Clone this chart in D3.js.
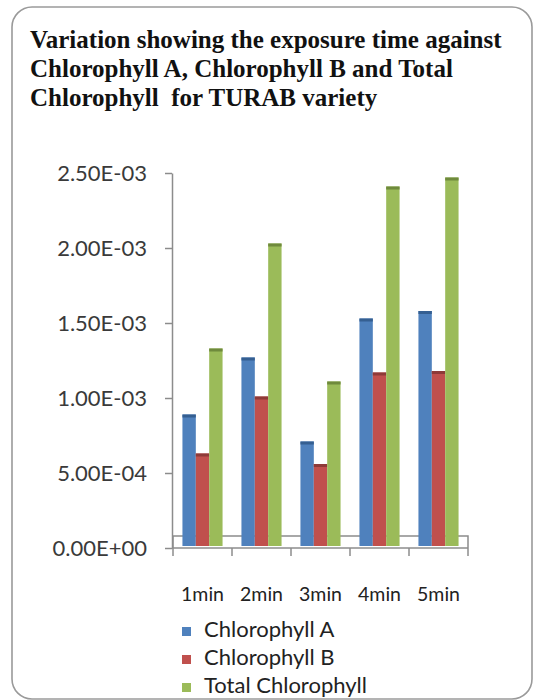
<!DOCTYPE html>
<html>
<head>
<meta charset="utf-8">
<script src="https://cdn.jsdelivr.net/npm/d3@7"></script>
<style>
body { margin: 0; background: #fff; }
svg { display: block; }
</style>
</head>
<body>
<svg width="534" height="700"></svg>
<script>
var categories = ["1min", "2min", "3min", "4min", "5min"]
var seriesNames = ["Chlorophyll A", "Chlorophyll B", "Total Chlorophyll"]
var chlA = [0.00089, 0.00127, 0.00071, 0.00153, 0.00158]
var chlB = [0.00063, 0.00101, 0.00056, 0.00117, 0.00118]
var chlTotal = [0.00133, 0.00203, 0.00111, 0.00241, 0.00247]
var yTicks = [0, 0.0005, 0.001, 0.0015, 0.002, 0.0025]
var titleLines = [
    "Variation showing the exposure time against",
    "Chlorophyll A, Chlorophyll B and Total",
    "Chlorophyll  for TURAB variety"
]

var colors = ["#4F81BD", "#C0504D", "#9BBB59"]
var topColors = ["#355F91", "#8E3A38", "#6F8A3C"]
var series = [chlA, chlB, chlTotal]

var svg = d3.select("svg")

// outer rounded frame
svg.append("rect")
    .attr("x", 12).attr("y", 7)
    .attr("width", 520).attr("height", 692)
    .attr("rx", 20).attr("ry", 20)
    .attr("fill", "#fff")
    .attr("stroke", "#9a9a9a")
    .attr("stroke-width", 1.6)

// title
svg.append("g").selectAll("text")
    .data(titleLines)
    .enter().append("text")
    .attr("x", 30)
    .attr("y", function(d, i) { return 48 + i*29 })
    .attr("font-family", "'Liberation Serif', 'Times New Roman', serif")
    .attr("font-weight", "bold")
    .attr("font-size", 25)
    .attr("fill", "#111")
    .style("white-space", "pre")
    .text(function(d) { return d })

// plot box (names avoid window.top)
var pLeft = 173, pRight = 468, pBottom = 548, pTop = 173

var x0 = d3.scaleBand().domain(categories).range([pLeft, pRight])
    .paddingInner(0.32).paddingOuter(0.16)
var x1 = d3.scaleBand().domain(d3.range(series.length)).range([0, x0.bandwidth()])
var y = d3.scaleLinear().domain([0, 0.0025]).range([pBottom, pTop])

function sciFmt(v) {
    var parts = v.toExponential(2).toUpperCase().split("E")
    var e = +parts[1]
    var sign = e < 0 ? "-" : "+"
    var ee = Math.abs(e)
    return parts[0] + "E" + sign + (ee < 10 ? "0" + ee : ee)
}

var axisColor = "#8c8c8c"

// floor (3d base)
var floorBack = 536, barBase = 546
svg.append("path")
    .attr("d", "M" + pLeft + "," + floorBack + "H" + pRight + "V" + pBottom)
    .attr("fill", "none").attr("stroke", axisColor).attr("stroke-width", 1.5)
svg.append("line")
    .attr("x1", pLeft).attr("x2", pLeft).attr("y1", floorBack).attr("y2", pBottom)
    .attr("stroke", axisColor).attr("stroke-width", 1.5)

// y axis
var yAxis = d3.axisLeft(y).tickValues(yTicks).tickFormat(sciFmt)
    .tickSize(7).tickSizeOuter(0).tickPadding(18)
var gy = svg.append("g").attr("transform", "translate(" + (pLeft - 1) + ",0)").call(yAxis)
gy.selectAll("path, line").attr("stroke", axisColor).attr("stroke-width", 1.5)
gy.selectAll("text")
    .attr("font-family", "Lato, 'Open Sans', sans-serif")
    .attr("font-size", 22)
    .attr("fill", "#3a3a3a")

// x axis: front line with ticks at band edges
var step = x0.step()
svg.append("line")
    .attr("x1", pLeft - 1).attr("x2", pRight).attr("y1", pBottom).attr("y2", pBottom)
    .attr("stroke", axisColor).attr("stroke-width", 1.5)
svg.append("g").selectAll("line")
    .data(d3.range(categories.length + 1))
    .enter().append("line")
    .attr("x1", function(i) { return pLeft + i*step })
    .attr("x2", function(i) { return pLeft + i*step })
    .attr("y1", pBottom).attr("y2", pBottom + 8)
    .attr("stroke", axisColor).attr("stroke-width", 1.5)

// bars
var groups = svg.append("g").selectAll("g")
    .data(categories)
    .enter().append("g")
    .attr("transform", function(c) { return "translate(" + x0(c) + ",0)" })

groups.each(function(c, ci) {
    var g = d3.select(this)
    series.forEach(function(s, si) {
        var yt = y(s[ci])
        g.append("rect")
            .attr("x", x1(si)).attr("width", x1.bandwidth())
            .attr("y", yt).attr("height", barBase - yt)
            .attr("fill", colors[si])
        g.append("rect")
            .attr("x", x1(si)).attr("width", x1.bandwidth())
            .attr("y", yt).attr("height", 3)
            .attr("fill", topColors[si])
    })
})

// category labels
svg.append("g").selectAll("text")
    .data(categories)
    .enter().append("text")
    .attr("x", function(c) { return x0(c) + x0.bandwidth()/2 })
    .attr("y", 601)
    .attr("text-anchor", "middle")
    .attr("font-family", "Lato, 'Open Sans', sans-serif")
    .attr("font-size", 19.5)
    .attr("fill", "#222")
    .text(function(c) { return c })

// legend
var legend = svg.append("g").selectAll("g")
    .data(seriesNames)
    .enter().append("g")
    .attr("transform", function(d, i) { return "translate(182," + (637 + i*28) + ")" })
legend.append("rect")
    .attr("x", 0).attr("y", -10).attr("width", 9).attr("height", 9)
    .attr("fill", function(d, i) { return colors[i] })
legend.append("text")
    .attr("x", 22).attr("y", 0)
    .attr("font-family", "Lato, 'Open Sans', sans-serif")
    .attr("font-size", 22)
    .attr("fill", "#222")
    .text(function(d) { return d })
</script>
</body>
</html>
